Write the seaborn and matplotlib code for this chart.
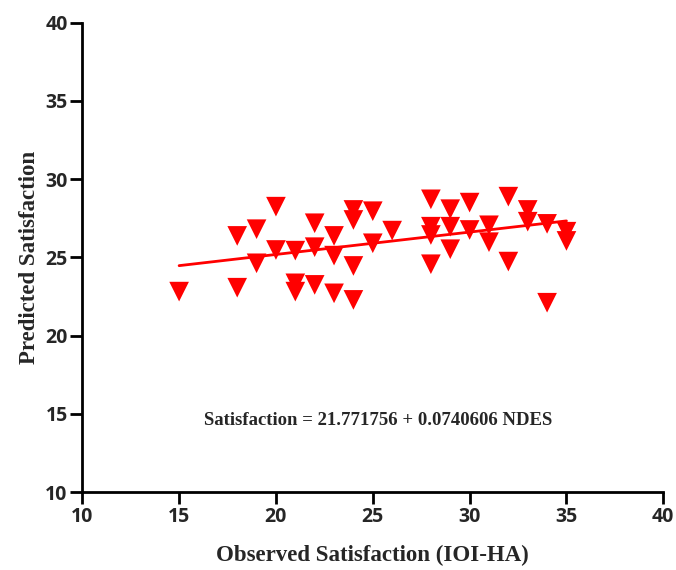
import numpy as np
import pandas as pd
import matplotlib
matplotlib.use("Agg")
import matplotlib.pyplot as plt
import seaborn as sns

# Observed satisfaction (IOI-HA) values
observed = [15,
            18, 18,
            19, 19,
            20, 20,
            21, 21, 21,
            22, 22, 22,
            23, 23, 23,
            24, 24, 24, 24,
            25, 25,
            26,
            28, 28, 28, 28,
            29, 29, 29,
            30, 30,
            31, 31,
            32, 32,
            33, 33,
            34, 34,
            35, 35]
# Predicted satisfaction values
predicted = [22.81,
             26.37, 23.06,
             26.80, 24.62,
             28.24, 25.47,
             25.43, 23.34, 22.81,
             27.18, 25.65, 23.24,
             26.37, 25.11, 22.70,
             28.03, 27.39, 24.45, 22.28,
             27.95, 25.90,
             26.71,
             28.71, 26.96, 26.43, 24.56,
             28.08, 26.96, 25.52,
             28.50, 26.75,
             27.05, 25.97,
             28.88, 24.73,
             28.03, 27.28,
             27.14, 22.10,
             26.64, 26.05]

# Fitted line as drawn in the chart
fit_x = [15, 35]
fit_y = [24.47, 27.33]

x_ticks = [10, 15, 20, 25, 30, 35, 40]
y_ticks = [10, 15, 20, 25, 30, 35, 40]
equation = "Satisfaction = 21.771756 + 0.0740606 NDES"

df = pd.DataFrame({"observed": observed, "predicted": predicted})
fit_df = pd.DataFrame({"observed": fit_x, "predicted": fit_y})

sns.set_style("white")
plt.rcParams["font.family"] = ["DejaVu Sans"]

fig = plt.figure(figsize=(6.76, 5.70), dpi=100)
ax = fig.add_axes([0.1217, 0.1368, 0.8595, 0.8234])

sns.scatterplot(data=df, x="observed", y="predicted", ax=ax, marker="v",
                s=200, color="#ff0000", edgecolor="none", zorder=3)
sns.lineplot(data=fit_df, x="observed", y="predicted", ax=ax,
             color="#ff0000", lw=2, zorder=4)

ax.set_xlim(10, 40)
ax.set_ylim(10, 40)
ax.set_xticks(x_ticks)
ax.set_yticks(y_ticks)
ax.set_xticklabels([str(t) for t in x_ticks], fontfamily="Open Sans", fontweight="bold", fontsize=14)
ax.set_yticklabels([str(t) for t in y_ticks], fontfamily="Open Sans", fontweight="bold", fontsize=14)

for side in ["top", "right"]:
    ax.spines[side].set_visible(False)
for side in ["left", "bottom"]:
    ax.spines[side].set_linewidth(2)
    ax.spines[side].set_color("black")
ax.tick_params(axis="both", direction="out", length=8.5, width=2, color="black",
               bottom=True, left=True, pad=2)

ax.set_xlabel("Observed Satisfaction (IOI-HA)", fontfamily="Liberation Serif",
              fontweight="bold", fontsize=16.5, labelpad=13)
ax.set_ylabel("Predicted Satisfaction", fontfamily="Liberation Serif",
              fontweight="bold", fontsize=16.5, labelpad=4)

ax.text(25.27, 14.6, equation, fontfamily="Liberation Serif", fontweight="bold",
        fontsize=13.5, ha="center", va="center")

fig.savefig("out.png", dpi=100)
